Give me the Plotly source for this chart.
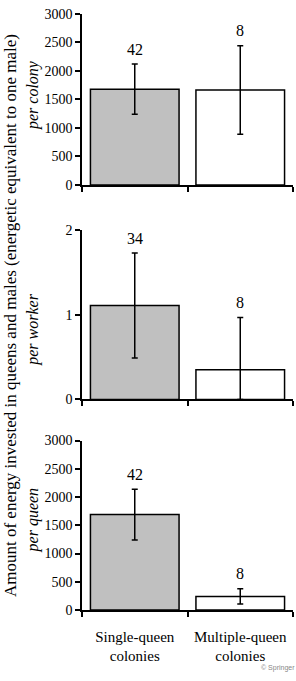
import plotly.graph_objects as go

categories = ["Single-queen<br>colonies", "Multiple-queen<br>colonies"]
panel_labels = ["per colony", "per worker", "per queen"]
colony_means = [1680, 1665]
colony_err = [440, 775]
colony_n = ["42", "8"]
worker_means = [1.11, 0.35]
worker_err = [0.62, 0.62]
worker_n = ["34", "8"]
queen_means = [1690, 242]
queen_err = [450, 135]
queen_n = ["42", "8"]
bar_colors = ["#c0c0c0", "#ffffff"]
y_title = "Amount of energy invested in queens and males (energetic equivalent to one male)"

W, H = 296, 681
FONT = "Liberation Serif, Times New Roman, Times, serif"

panels = [
    (colony_means, colony_err, colony_n, [0, 3000], 500, (7, 182), 90),
    (worker_means, worker_err, worker_n, [0, 2], 1, (228.3, 401.3), 330),
    (queen_means, queen_err, queen_n, [0, 3000], 500, (443.3, 616.7), 525),
]

fig = go.Figure()
annotations = []
for i, (means, errs, ns, yr, dt, (ytop, ybot), lab_y) in enumerate(panels):
    k = "" if i == 0 else str(i + 1)
    minus = [min(e, m) for e, m in zip(errs, means)]
    fig.add_trace(go.Bar(
        x=categories, y=means, width=0.84,
        marker=dict(color=bar_colors, line=dict(color="black", width=1.5)),
        error_y=dict(type="data", array=errs, arrayminus=minus, color="black",
                     thickness=1.5, width=3),
        xaxis="x" + k, yaxis="y" + k, showlegend=False, hoverinfo="skip",
    ))
    for c, m, e, n in zip(categories, means, errs, ns):
        annotations.append(dict(x=c, y=m + e, xref="x" + k, yref="y" + k, text=n,
                                showarrow=False, yanchor="middle", yshift=15,
                                font=dict(family=FONT, size=16, color="black")))
    annotations.append(dict(x=33 / W, y=1 - lab_y / H, xref="paper", yref="paper",
                            text="<i>" + panel_labels[i] + "</i>", textangle=-90,
                            showarrow=False, xanchor="center", yanchor="middle",
                            font=dict(family=FONT, size=16, color="black")))
    fig.update_layout(**{
        "xaxis" + k: dict(domain=[82 / W, 293 / W], anchor="y" + k, type="category",
                          range=[-0.5, 1.5], showline=True, linecolor="black", linewidth=1.5,
                          ticks="outside", tickson="boundaries", ticklen=5, tickwidth=1.5,
                          tickcolor="black", showgrid=False, zeroline=False,
                          showticklabels=(i == 2), ticklabelstandoff=12,
                          tickfont=dict(family=FONT, size=15, color="black")),
        "yaxis" + k: dict(domain=[1 - ybot / H, 1 - ytop / H], anchor="x" + k, range=yr,
                          dtick=dt, tick0=0, showline=True, linecolor="black", linewidth=1.5,
                          ticks="outside", ticklen=5, tickwidth=1.5, tickcolor="black",
                          showgrid=False, zeroline=False,
                          tickfont=dict(family=FONT, size=14, color="black")),
    })

annotations.append(dict(x=10 / W, y=1 - 316 / H, xref="paper", yref="paper", text=y_title,
                        textangle=-90, showarrow=False, xanchor="center", yanchor="middle",
                        font=dict(family=FONT, size=17, color="black")))
annotations.append(dict(x=1, y=0, xref="paper", yref="paper", text="© Springer",
                        showarrow=False, xanchor="right", yanchor="bottom", borderpad=0,
                        font=dict(family="Liberation Sans", size=7, color="#888888")))

fig.update_layout(width=W, height=H, margin=dict(l=0, r=0, t=0, b=0),
                  paper_bgcolor="white", plot_bgcolor="white",
                  annotations=annotations, bargap=0.16)
fig.write_html("out.html")
